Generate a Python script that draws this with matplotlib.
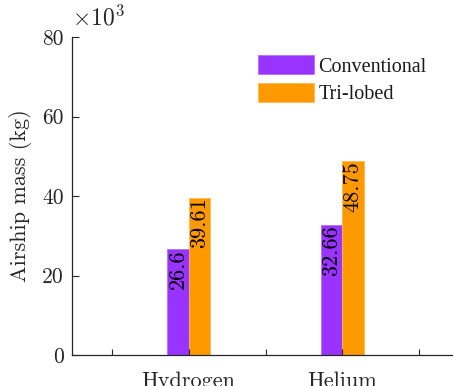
"""
Airship mass per lifting gas, conventional vs tri-lobed hull
"""

import matplotlib
matplotlib.use('Agg')
import matplotlib.pyplot as plt
import numpy as np

plt.rcParams['mathtext.fontset'] = 'cm'
plt.rcParams['axes.formatter.use_mathtext'] = True

gases = ['Hydrogen', 'Helium']
tick_labels = ['', 'Hydrogen', '', 'Helium', '']
conventional = [26.6, 32.66]   # x10^3 kg
trilobed = [39.61, 48.75]      # x10^3 kg
labels = ['Conventional', 'Tri-lobed']

purple = '#9933ff'
orange = '#ff9900'
dark = '#262626'

fig = plt.figure(figsize=(4.53, 3.86), dpi=100)
ax = fig.add_axes([72/453, 31/386, 387/453, 318/386])

pos = np.array([2, 4])
w = 0.28
b1 = ax.bar(pos - w/2, conventional, w, color=purple, edgecolor='#b070ff', linewidth=0.6, label=labels[0])
b2 = ax.bar(pos + w/2, trilobed, w, color=orange, edgecolor='#ffb850', linewidth=0.6, label=labels[1])

for bars, vals in [(b1, conventional), (b2, trilobed)]:
    for r, v in zip(bars, vals):
        ax.text(r.get_x() + r.get_width()/2, v, '%g' % v, rotation=90,
                ha='center', va='top', fontsize=16, family='cmr10', color='k')

ax.set_xlim(0.48, 5.52)
ax.set_ylim(0, 80)
ax.set_xticks(np.arange(1, 6))
ax.set_xticklabels(tick_labels, family='cmr10', fontsize=16, color=dark)
ax.set_yticks([0, 20, 40, 60, 80])
ax.set_yticklabels(['0', '20', '40', '60', '80'], family='cmr10', fontsize=15.5, color=dark)
ax.tick_params(axis='x', direction='in', length=4.5, width=0.8, color=dark, pad=12)
ax.tick_params(axis='y', direction='in', length=5, width=0.8, color=dark, pad=6)

for s in ['top', 'right']:
    ax.spines[s].set_visible(False)
for s in ['left', 'bottom']:
    ax.spines[s].set_color(dark)
    ax.spines[s].set_linewidth(0.9)

ax.set_ylabel('Airship mass (kg)', family='cmr10', fontsize=16, color=dark)
ax.yaxis.set_label_coords(-0.103, 0.5)

ax.text(0.0, 1.02, r'$\times10^{3}$', transform=ax.transAxes, ha='left', va='bottom',
        fontsize=17, color=dark)

leg = ax.legend(loc='upper left', bbox_to_anchor=(258/453, 1 - 55/386),
                bbox_transform=fig.transFigure, frameon=False, borderpad=0,
                borderaxespad=0, handlelength=2.8, handleheight=1.1,
                handletextpad=0.2, labelspacing=0.3,
                prop={'family': 'Liberation Serif', 'size': 14.5})
for t in leg.get_texts():
    t.set_color('#1a1a1a')

fig.savefig('out.png', dpi=100)
